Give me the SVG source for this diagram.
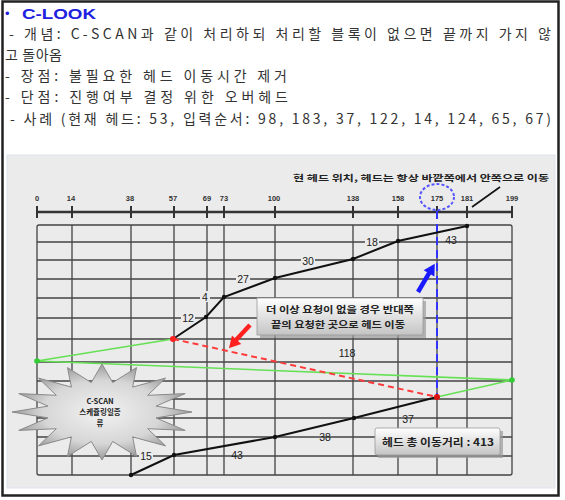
<svg xmlns="http://www.w3.org/2000/svg" width="565" height="500" viewBox="0 0 565 500">
<defs>
<style>
.hd{font-family:"Noto Sans CJK KR","Noto Sans",sans-serif;font-size:14px;fill:#333}
.tk{font-family:"Liberation Sans",Arial,sans-serif;font-size:7.5px;font-weight:bold;fill:#333;text-anchor:middle}
.lb{font-family:"Liberation Sans",Arial,sans-serif;font-size:10.5px;fill:#222;text-anchor:middle}
.kr{font-family:"Noto Sans CJK KR",sans-serif;font-size:9px;fill:#222;text-anchor:middle;font-weight:bold}
.grid{stroke:#444;stroke-width:1.3;fill:none}
.path{stroke:#111;stroke-width:2;fill:none}
.lbg{fill:#ebebeb}
</style>
<linearGradient id="box" x1="0" y1="0" x2="0" y2="1">
<stop offset="0" stop-color="#ffffff"/>
<stop offset="1" stop-color="#c4c4c4"/>
</linearGradient>
<radialGradient id="star" cx="0.5" cy="0.5" r="0.55">
<stop offset="0" stop-color="#f2f2f2"/>
<stop offset="0.6" stop-color="#d6d6d6"/>
<stop offset="1" stop-color="#8a8a8a"/>
</radialGradient>
</defs>
<rect x="0" y="0" width="565" height="500" fill="#ffffff"/>
<rect x="2.5" y="1.5" width="556" height="494" fill="none" stroke="#222" stroke-width="2.5"/>

<g id="header">
<text x="5" y="18" style="font-family:'Liberation Sans',sans-serif;font-size:13px;fill:#2020e0">•</text>
<text x="22" y="19" textLength="74" lengthAdjust="spacingAndGlyphs" style="font-family:'Liberation Sans',sans-serif;font-size:15px;font-weight:bold;fill:#2020e0">C-LOOK</text>
<text class="hd" x="9" y="39" textLength="542" lengthAdjust="spacing">- 개념: C-SCAN과 같이 처리하되 처리할 블록이 없으면 끝까지 가지 않</text>
<text class="hd" x="5" y="60" textLength="57" lengthAdjust="spacing">고 돌아옴</text>
<text class="hd" x="5" y="81" textLength="282" lengthAdjust="spacing">- 장점: 불필요한 헤드 이동시간 제거</text>
<text class="hd" x="5" y="102" textLength="283" lengthAdjust="spacing">- 단점: 진행여부 결정 위한 오버헤드</text>
<text class="hd" x="10" y="124" textLength="541" lengthAdjust="spacing">- 사례 (현재 헤드: 53, 입력순서: 98, 183, 37, 122, 14, 124, 65, 67)</text>
</g>

<g id="panel">
<rect x="7" y="155" width="548" height="333" fill="#ebebeb"/>
<rect x="7" y="155" width="548" height="333" fill="none" stroke="#dde3ee" stroke-width="1"/>
</g>

<g id="grid">
<rect x="37" y="225" width="475" height="250" rx="2" class="grid"/>
<path class="grid" d="M37 242H512M37 260H512M37 279H512M37 298H512M37 318H512M37 339H512M37 362H512M37 381H512M37 399H512M37 418H512M37 437H512M37 456H512
M72 225V475M131 225V475M174 225V475M207 225V475M224 225V475M275 225V475M353 225V475M398 225V475M437 225V475M467 225V475"/>
</g>

<g id="axis">
<path d="M37 212H512" stroke="#333" stroke-width="2.5"/>
<path d="M37 206V218M72 206V218M131 206V218M174 206V218M207 206V218M224 206V218M275 206V218M353 206V218M398 206V218M437 206V218M467 206V218M512 206V218" stroke="#333" stroke-width="2"/>
<text class="tk" x="37" y="201">0</text>
<text class="tk" x="71" y="201">14</text>
<text class="tk" x="130" y="201">38</text>
<text class="tk" x="173" y="201">57</text>
<text class="tk" x="207" y="201">69</text>
<text class="tk" x="224" y="201">73</text>
<text class="tk" x="274" y="201">100</text>
<text class="tk" x="353" y="201">138</text>
<text class="tk" x="398" y="201">158</text>
<text class="tk" x="437" y="201">175</text>
<text class="tk" x="467" y="201">181</text>
<text class="tk" x="512" y="201">199</text>
</g>

<g id="current-head-note">
<ellipse cx="437" cy="197" rx="17" ry="13" fill="none" stroke="#5555ff" stroke-width="2" stroke-dasharray="3 2"/>
<text x="293" y="181" textLength="256" lengthAdjust="spacingAndGlyphs" style="font-family:'Noto Sans CJK KR',sans-serif;font-size:8.5px;font-weight:bold;fill:#222">현 헤드 위치, 헤드는 항상 바깥쪽에서 안쪽으로 이동</text>
</g>

<g id="connectors">
<path d="M37 361L173 339M37 361L512 380L437 397" stroke="#66e055" stroke-width="1.6" fill="none"/>
<path d="M173 339L437 397" stroke="#ff3b3b" stroke-width="2" stroke-dasharray="6 4" fill="none"/>
<path d="M437 211V395" stroke="#3333ff" stroke-width="2" stroke-dasharray="8 5" fill="none"/>
<path class="path" d="M173 339L206 317L224 297L275 278L353 259L398 241L467 226"/>
<path class="path" d="M437 397L354 418L275 437L174 455L131 475"/>
<path d="M472 207L500 187" stroke="#111" stroke-width="1.6"/>
<path d="M250 325L236 340" stroke="#ff2020" stroke-width="4.5"/>
<polygon points="230,347 239.8,343.7 232.4,336.9" fill="#ff2020" stroke="#ff2020" stroke-width="1.5"/>
<path d="M418 292L429.4 272.7" stroke="#1a1aff" stroke-width="4.5"/>
<polygon points="434,265 433.7,275.3 425.1,270.2" fill="#1a1aff" stroke="#1a1aff" stroke-width="1.5"/>
</g>

<g id="points">
<circle cx="206" cy="317" r="2.2" fill="#111"/>
<circle cx="224" cy="297" r="2.2" fill="#111"/>
<circle cx="275" cy="278" r="2.2" fill="#111"/>
<circle cx="353" cy="259" r="2.2" fill="#111"/>
<circle cx="398" cy="241" r="2.2" fill="#111"/>
<circle cx="467" cy="226" r="2.2" fill="#111"/>
<circle cx="354" cy="418" r="2.2" fill="#111"/>
<circle cx="275" cy="437" r="2.2" fill="#111"/>
<circle cx="174" cy="455" r="2.2" fill="#111"/>
<circle cx="131" cy="475" r="2.2" fill="#111"/>
<circle cx="37" cy="361" r="2.8" fill="#33cc33"/>
<circle cx="512" cy="380" r="2.8" fill="#33cc33"/>
<circle cx="173" cy="339" r="3" fill="#ff2020"/>
<circle cx="437" cy="397" r="3" fill="#dd1010"/>
</g>

<g id="distance-labels">
<rect class="lbg" x="181" y="312" width="14" height="11"/><text class="lb" x="188" y="321.5">12</text>
<rect class="lbg" x="200" y="291" width="10" height="11"/><text class="lb" x="205" y="300.5">4</text>
<rect class="lbg" x="236" y="273" width="14" height="11"/><text class="lb" x="243" y="282.5">27</text>
<rect class="lbg" x="301" y="255" width="14" height="11"/><text class="lb" x="308" y="264.5">30</text>
<rect class="lbg" x="365" y="236" width="14" height="11"/><text class="lb" x="372" y="245.5">18</text>
<text class="lb" x="451" y="243.5">43</text>
<text class="lb" x="347" y="356.5">118</text>
<text class="lb" x="408" y="422.5">37</text>
<text class="lb" x="325" y="440.5">38</text>
<text class="lb" x="237" y="458.5">43</text>
<rect class="lbg" x="139" y="450" width="14" height="11"/><text class="lb" x="146" y="459.5">15</text>
</g>

<g id="callout-reverse">
<rect x="260" y="301" width="166" height="37" fill="#9a9a9a" opacity="0.7"/>
<rect x="257" y="298" width="166" height="37" fill="url(#box)" stroke="#999" stroke-width="0.8"/>
<text class="kr" x="340" y="313" textLength="148" lengthAdjust="spacingAndGlyphs">더 이상 요청이 없을 경우 반대쪽</text>
<text class="kr" x="338" y="328" textLength="134" lengthAdjust="spacingAndGlyphs">끝의 요청한 곳으로 헤드 이동</text>
</g>

<g id="callout-total">
<rect x="378" y="431" width="125" height="27" fill="#9a9a9a" opacity="0.7"/>
<rect x="375" y="428" width="125" height="27" rx="2" fill="url(#box)" stroke="#999" stroke-width="0.8"/>
<text class="kr" x="438" y="445.5" textLength="112" lengthAdjust="spacingAndGlyphs" style="font-size:10px">헤드 총 이동거리 : 413</text>
</g>

<g id="starburst">
<polygon fill="url(#star)" stroke="#8a8a8a" stroke-width="1" points="192,412 156,417.9 185.2,430.4 147.7,428.7 165.6,445.9 132.6,436.9 136.5,456.4 112.7,441.4 102,460 91.3,441.4 67.5,456.4 71.4,436.9 38.4,445.9 56.3,428.7 18.8,430.4 48,417.9 12,412 48,406.1 18.8,393.6 56.3,395.3 38.4,378.1 71.4,387.1 67.5,367.6 91.3,382.6 102,364 112.7,382.6 136.5,367.6 132.6,387.1 165.6,378.1 147.7,395.3 185.2,393.6 156,406.1"/>
<text class="kr" x="100" y="404" style="font-size:7.5px">C-SCAN</text>
<text class="kr" x="100" y="415" style="font-size:7.5px">스케쥴링일종</text>
<text class="kr" x="100" y="426" style="font-size:7.5px">류</text>
</g>
</svg>
